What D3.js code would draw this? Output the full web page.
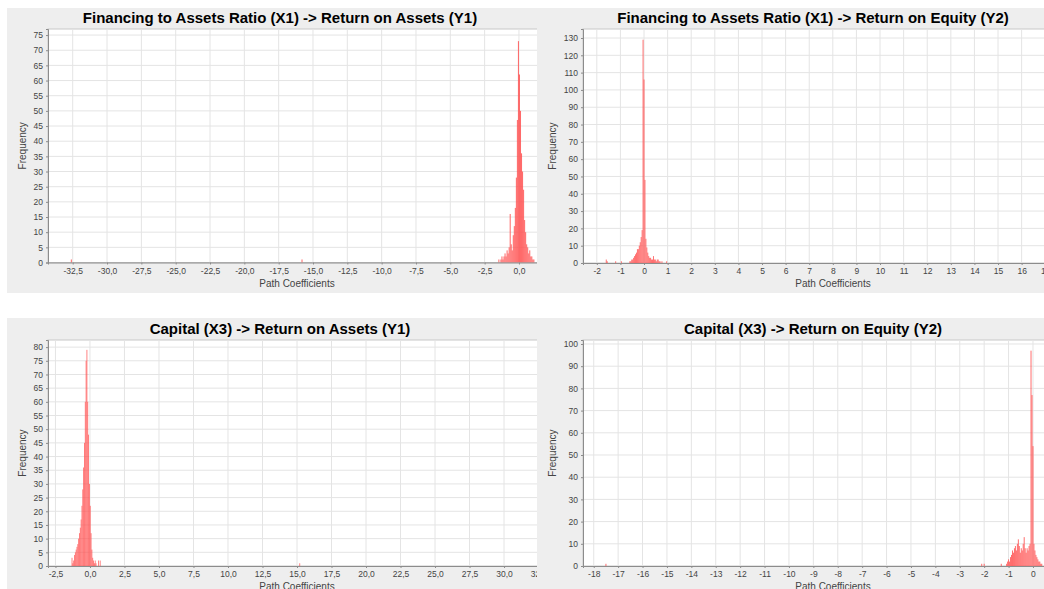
<!DOCTYPE html>
<html><head><meta charset="utf-8">
<script src="https://cdn.jsdelivr.net/npm/d3@7"></script>
<style>body{margin:0;background:#fff}svg{display:block}text{font-family:"Liberation Sans",Arial,sans-serif}</style>
</head><body>
<svg id="c" width="1044" height="589"></svg>
<script>
// ---------- DATA ----------
const titles = [
  "Financing to Assets Ratio (X1) -> Return on Assets (Y1)",
  "Financing to Assets Ratio (X1) -> Return on Equity (Y2)",
  "Capital (X3) -> Return on Assets (Y1)",
  "Capital (X3) -> Return on Equity (Y2)"
];
const xLabel = "Path Coefficients";
const yLabel = "Frequency";

// Panel 1: X1 -> Y1
const p1BinStart = -1.5, p1BinWidth = 0.075;
const p1Counts = [1,0,1,2,1,2,3,2,4,3,5,16,6,4,9,12,18,28,47,73,62,50,36,30,24,14,10,6,5,3,4,2,2,1,1];
const p1Outliers = [[-32.6,1],[-15.8,1]];
const p1XTicks = [-32.5,-30,-27.5,-25,-22.5,-20,-17.5,-15,-12.5,-10,-7.5,-5,-2.5,0];
const p1YTicks = [0,5,10,15,20,25,30,35,40,45,50,55,60,65,70,75];

// Panel 2: X1 -> Y2
const p2BinStart = -0.62, p2BinWidth = 0.04;
const p2Counts = [1,1,2,2,3,4,5,6,8,8,10,12,15,19,129,106,48,14,9,6,4,3,3,2,2,4,2,2,1,2,2,1,1,0,1];
const p2Outliers = [[-1.6,2],[-1.56,1],[-1.2,1],[-0.96,1],[0.96,1]];
const p2XTicks = [-2,-1,0,1,2,3,4,5,6,7,8,9,10,11,12,13,14,15,16,17,18];
const p2YTicks = [0,10,20,30,40,50,60,70,80,90,100,110,120,130];

// Panel 3: X3 -> Y1
const p3BinStart = -1.33, p3BinWidth = 0.06;
const p3Counts = [3,1,2,4,5,6,7,8,10,12,14,17,22,28,36,45,60,75,79,60,48,30,22,12,6,3,2,1,2,1,0,0,2,0,2];
const p3Outliers = [[15.2,1]];
const p3XTicks = [-2.5,0,2.5,5,7.5,10,12.5,15,17.5,20,22.5,25,27.5,30,32.5];
const p3YTicks = [0,5,10,15,20,25,30,35,40,45,50,55,60,65,70,75,80];

// Panel 4: X3 -> Y2
const p4BinStart = -1.1, p4BinWidth = 0.04;
const p4Counts = [1,2,3,2,4,5,7,6,8,9,7,10,12,9,6,8,7,10,13,8,6,8,7,9,10,97,77,54,10,7,5,4,3,2,2,1,1];
const p4Outliers = [[-17.5,1],[-2.1,1],[-2.0,1],[-1.3,1]];
const p4XTicks = [-18,-17,-16,-15,-14,-13,-12,-11,-10,-9,-8,-7,-6,-5,-4,-3,-2,-1,0,1,2];
const p4YTicks = [0,10,20,30,40,50,60,70,80,90,100];

// ---------- LAYOUT ----------
const panels = [
  {title:titles[0], start:p1BinStart, w:p1BinWidth, counts:p1Counts, out:p1Outliers, xt:p1XTicks, yt:p1YTicks, dec:true,
   bg:[7,8,530,285], clip:[0,0,537,300], l:48, r:546, t:29, b:262.5, xd:[-34.3,1.97], yd:[0,77], tx:280, ty:23, fx:22},
  {title:titles[1], start:p2BinStart, w:p2BinWidth, counts:p2Counts, out:p2Outliers, xt:p2XTicks, yt:p2YTicks, dec:false,
   bg:[537,8,507,285], clip:[537,0,507,300], l:583, r:1083, t:29, b:263, xd:[-2.585,18.6], yd:[0,135.2], tx:813, ty:23, fx:552},
  {title:titles[2], start:p3BinStart, w:p3BinWidth, counts:p3Counts, out:p3Outliers, xt:p3XTicks, yt:p3YTicks, dec:true,
   bg:[7,318,530,271], clip:[0,300,537,289], l:48, r:546, t:340, b:566, xd:[-3.04,33.04], yd:[0,82.6], tx:280, ty:334, fx:22},
  {title:titles[3], start:p4BinStart, w:p4BinWidth, counts:p4Counts, out:p4Outliers, xt:p4XTicks, yt:p4YTicks, dec:false,
   bg:[537,318,507,271], clip:[537,300,507,289], l:583, r:1083, t:340, b:566, xd:[-18.44,2.05], yd:[0,101.8], tx:813, ty:334, fx:552}
];

const svg = d3.select("#c");
const defs = svg.append("defs");
const fmtDec = v => d3.format(".1f")(v).replace(".", ",").replace("−","-");
const fmtInt = v => d3.format("d")(v).replace("−","-");

panels.forEach((p, i) => {
  defs.append("clipPath").attr("id","clip"+i).append("rect")
    .attr("x",p.clip[0]).attr("y",p.clip[1]).attr("width",p.clip[2]).attr("height",p.clip[3]);
  const g = svg.append("g").attr("clip-path","url(#clip"+i+")");
  g.append("rect").attr("x",p.bg[0]).attr("y",p.bg[1]).attr("width",p.bg[2]).attr("height",p.bg[3]).attr("fill","#eeeeee");

  const x = d3.scaleLinear().domain(p.xd).range([p.l,p.r]);
  const y = d3.scaleLinear().domain(p.yd).range([p.b,p.t]);

  g.append("rect").attr("x",p.l).attr("y",p.t).attr("width",p.r-p.l).attr("height",p.b-p.t)
    .attr("fill","#ffffff").attr("stroke","#c8c8c8").attr("stroke-width",1);

  // grid
  g.append("g").selectAll("line").data(p.xt).join("line")
    .attr("x1",d=>x(d)).attr("x2",d=>x(d)).attr("y1",p.t).attr("y2",p.b)
    .attr("stroke","#e4e4e4").attr("stroke-width",1);
  g.append("g").selectAll("line").data(p.yt.filter(v=>v>0)).join("line")
    .attr("x1",p.l).attr("x2",p.r).attr("y1",d=>y(d)).attr("y2",d=>y(d))
    .attr("stroke","#e4e4e4").attr("stroke-width",1);

  // bars
  const bins = p.counts.map((c,k)=>({x0:p.start+k*p.w, x1:p.start+(k+1)*p.w, c}));
  p.out.forEach(o=>bins.push({x0:o[0]-p.w/2, x1:o[0]+p.w/2, c:o[1]}));
  g.append("g").selectAll("rect").data(bins.filter(b=>b.c>0)).join("rect")
    .attr("x",d=>x(d.x0)).attr("width",d=>Math.max(0.8, x(d.x1)-x(d.x0)))
    .attr("y",d=>y(d.c)).attr("height",d=>y(0)-y(d.c))
    .attr("fill","#ff5050").attr("fill-opacity",0.85);

  // axes
  const fmt = p.dec ? fmtDec : fmtInt;
  const xa = g.append("g").attr("transform",`translate(0,${p.b})`)
    .call(d3.axisBottom(x).tickValues(p.xt).tickSize(2).tickPadding(3).tickFormat(fmt));
  const ya = g.append("g").attr("transform",`translate(${p.l},0)`)
    .call(d3.axisLeft(y).tickValues(p.yt).tickSize(2).tickPadding(3).tickFormat(fmtInt));
  [xa,ya].forEach(a=>{
    a.select(".domain").attr("stroke","#8c8c8c");
    a.selectAll(".tick line").attr("stroke","#8c8c8c");
    a.selectAll(".tick text").attr("fill","#444").style("font-size","8.5px");
  });

  // labels
  g.append("text").attr("x",(p.l+p.r)/2).attr("y",p.b+24).attr("text-anchor","middle")
    .attr("fill","#444").style("font-size","10px").text(xLabel);
  g.append("text").attr("transform",`translate(${p.fx},${(p.t+p.b)/2}) rotate(-90)`)
    .attr("text-anchor","middle").attr("dy","0.35em").attr("fill","#444").style("font-size","10px").text(yLabel);
  g.append("text").attr("x",p.tx).attr("y",p.ty).attr("text-anchor","middle")
    .attr("fill","#000").style("font-size","15px").style("font-weight","bold").text(p.title);
});
</script>
</body></html>
